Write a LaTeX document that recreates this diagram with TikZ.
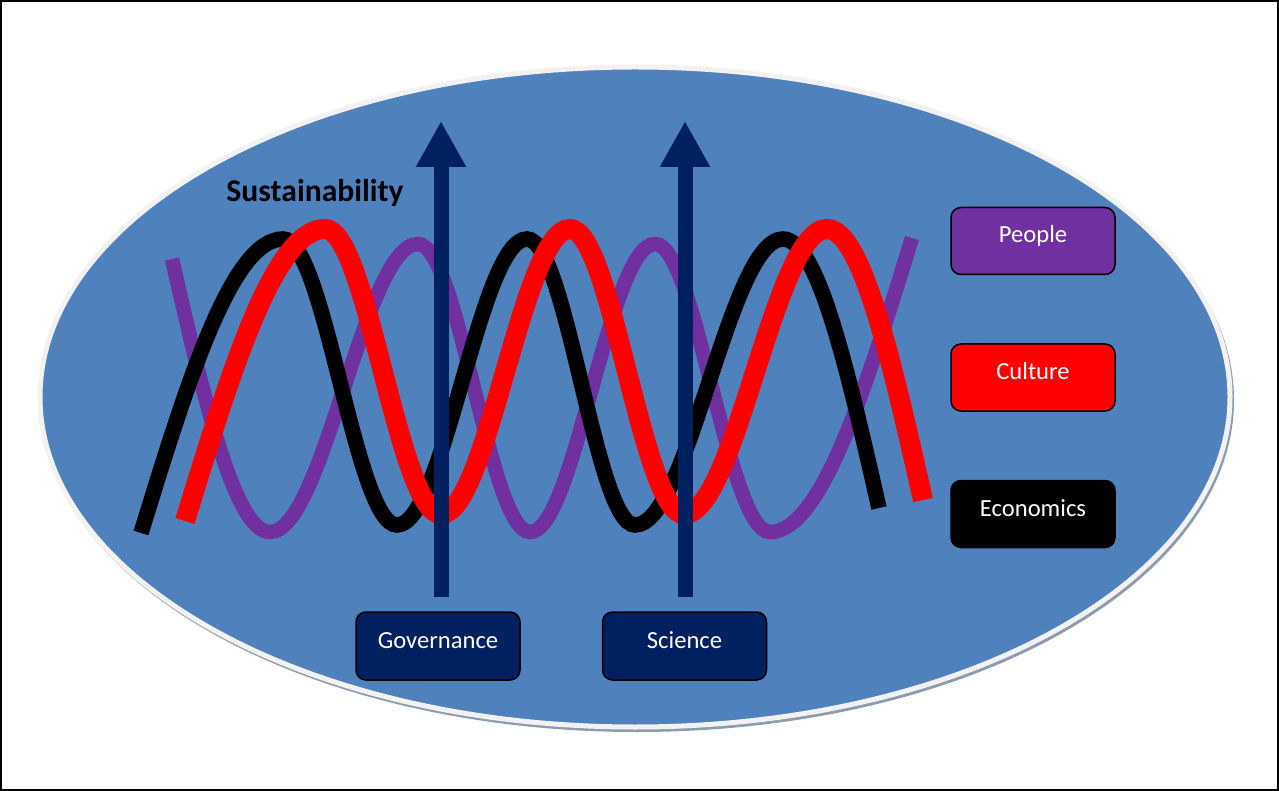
\documentclass[tikz,border=0pt]{standalone}
\usepackage{fontspec}
\setmainfont{Carlito}
\usepackage{tikz}
\usetikzlibrary{arrows.meta,positioning}
\definecolor{ovalblue}{RGB}{79,129,189}
\definecolor{ovalrim}{RGB}{242,242,242}
\definecolor{ovalshade}{RGB}{140,155,175}
\definecolor{peoplepurple}{RGB}{112,48,160}
\definecolor{culturered}{RGB}{255,0,0}
\definecolor{navy}{RGB}{0,32,96}
\tikzset{
  wave/.style={line width=3.1mm},
  legendbox/.style={
    draw=black,
    rounded corners=2mm,
    line width=0.3mm,
    minimum width=32.8mm,
    minimum height=13.4mm,
    text=white,
    font=\fontsize{14}{16}\selectfont,
    text height=3.2mm,
    text depth=2.4mm
  },
  drivebox/.style={legendbox, fill=navy, minimum height=13.6mm},
  uparrow/.style={-{Triangle[width=9.4mm,length=9.2mm]}, line width=3mm, draw=navy, shorten <=2.8mm},
  titlelabel/.style={font=\bfseries\fontsize{18}{20}\selectfont, text=black, anchor=base}
}

\begin{document}
\begin{tikzpicture}[x=0.2mm, y=-0.2mm, node distance=13.6mm]
  \useasboundingbox (0,0) rectangle (1279,791);
  \draw[line width=0.5mm] (1,1) rectangle (1278,790);

  % the oval
  \fill[ovalshade] (637,400) ellipse [x radius=597, y radius=332];
  \draw[ovalrim, line width=1mm, fill=ovalblue] (635,397) ellipse [x radius=595, y radius=330];

  % the three strands
  \draw[wave, peoplepurple, line width=2.9mm] (172,259) sin (270,532) cos (344,388) sin (418,244) cos (474,388) sin (530,532) cos (592,388) sin (655,244) cos (712,388) sin (770,532) cos (912,238);
  \draw[wave, black] (141,533) sin (283,239) cos (340,382) sin (397,525) cos (462,382) sin (527,239) cos (581,382) sin (635,525) cos (709,382) sin (783,239) cos (879,508);
  \draw[wave, culturered, line width=4mm] (185,521) sin (325,229) cos (383,372) sin (441,514) cos (505,372) sin (570,229) cos (627,372) sin (684,514) cos (755,372) sin (827,229) cos (923,500);

  \node[titlelabel] (title) at (315,202) {Sustainability};

  % legend
  \node[legendbox, fill=peoplepurple] (people) at (1033,241) {People};
  \node[legendbox, fill=culturered, below=of people] (culture) {Culture};
  \node[legendbox, fill=black, below=of culture] (econ) {Economics};

  % drivers
  \node[drivebox] (gov) at (438,646) {Governance};
  \node[drivebox, right=16.2mm of gov] (sci) {Science};
  \coordinate (govtip) at (441,121);
  \coordinate (scitip) at (685,121);
  \draw[uparrow] (gov.north -| govtip) -- (govtip);
  \draw[uparrow] (sci.north -| scitip) -- (scitip);
\end{tikzpicture}
\end{document}
